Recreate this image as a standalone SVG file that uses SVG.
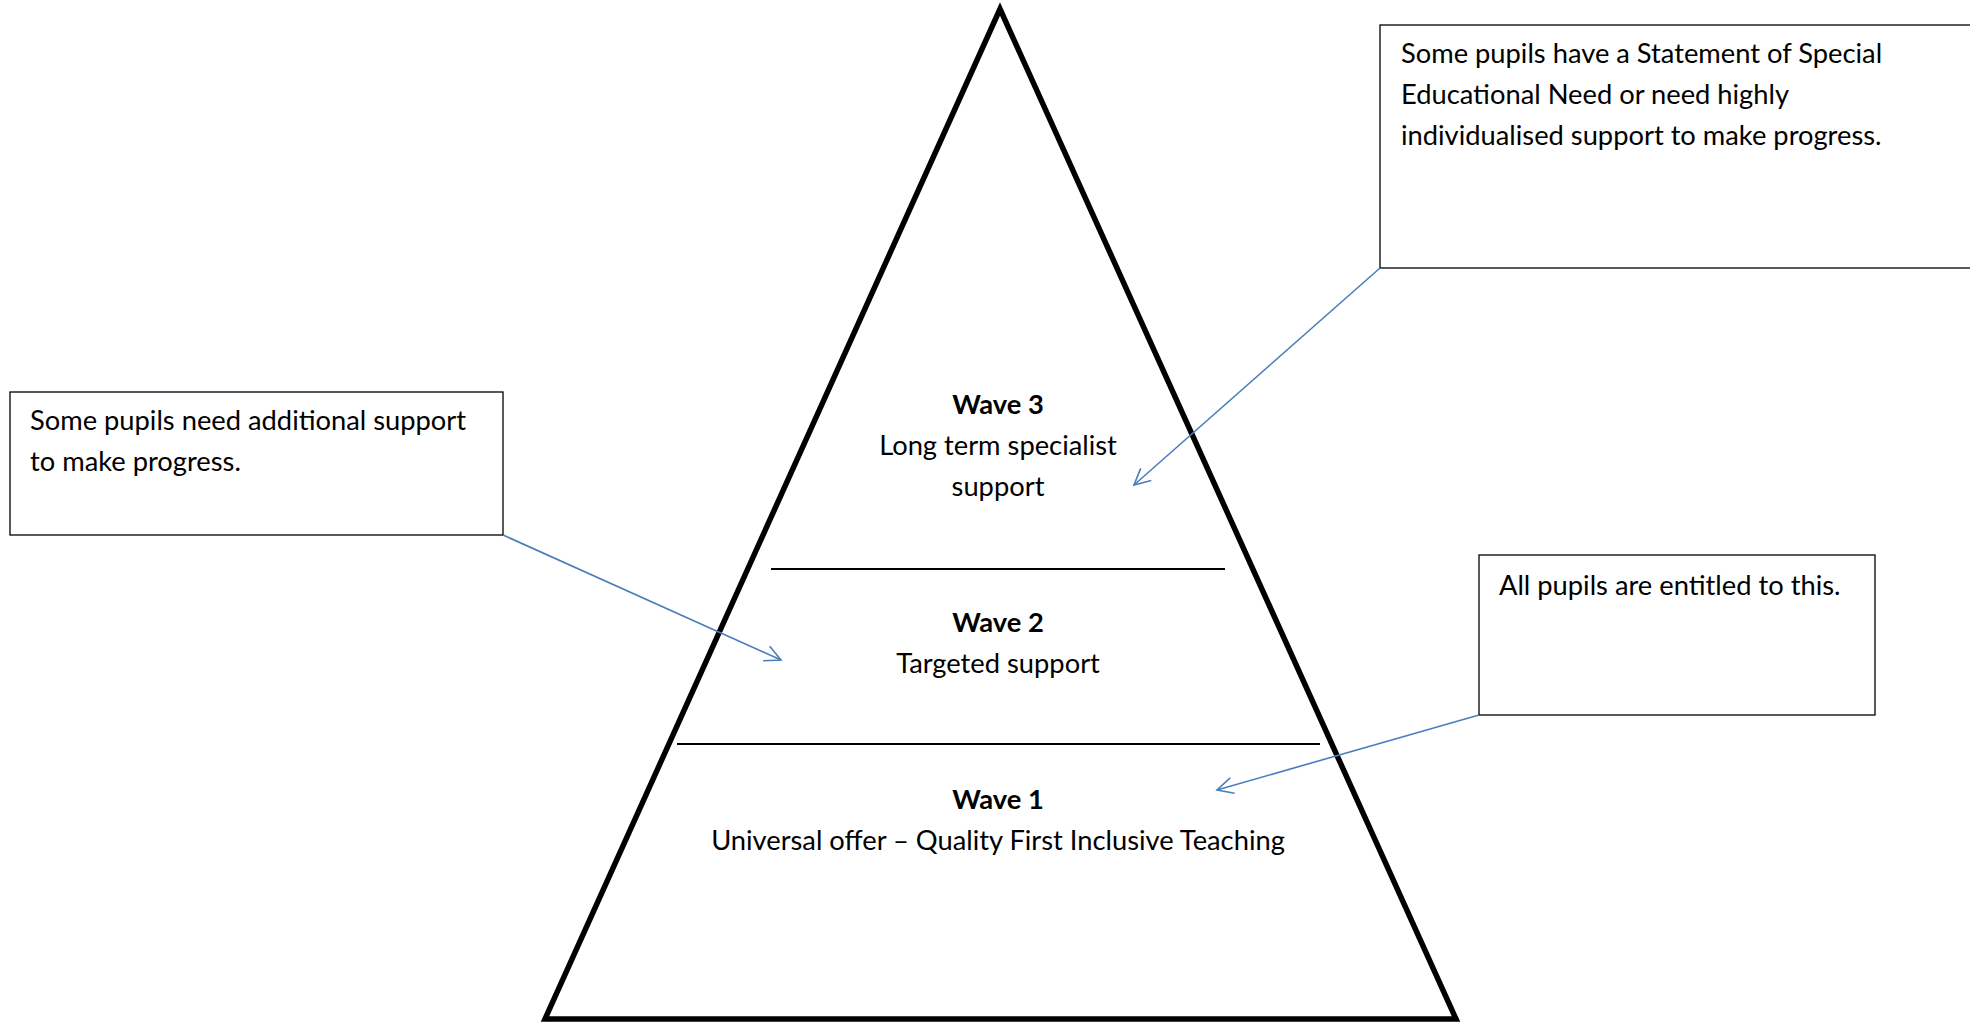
<svg xmlns="http://www.w3.org/2000/svg" width="1970" height="1022" viewBox="0 0 1970 1022">
<style>
.t{font-family:Lato,"Liberation Sans",sans-serif;font-size:27.3px;fill:#000}
.b{font-weight:bold}
.c{text-anchor:middle}
.box{fill:#fff;stroke:#000;stroke-width:1.3}
.con{stroke:#4A7EBB;stroke-width:1.6;fill:none}
.rule{stroke:#000;stroke-width:2}
</style>
<defs>
<marker id="open" viewBox="0 0 20 20" refX="18" refY="10" markerWidth="20" markerHeight="20" markerUnits="userSpaceOnUse" orient="auto">
<path d="M2,2 L18,10 L2,18" fill="none" stroke="#4A7EBB" stroke-width="1.6"/>
</marker>
</defs>
<rect width="1970" height="1022" fill="#fff"/>
<g id="pyramid">
<polygon points="1000,9 1456,1019 545,1019" fill="none" stroke="#000" stroke-width="5.5" stroke-linejoin="miter"/>
<line class="rule" x1="771" y1="569" x2="1225" y2="569"/>
<line class="rule" x1="677" y1="744" x2="1320" y2="744"/>
</g>
<g id="wave3">
<text class="t b c" x="998" y="414">Wave 3</text>
<text class="t c" x="998" y="455">Long term specialist</text>
<text class="t c" x="998" y="496">support</text>
</g>
<g id="wave2">
<text class="t b c" x="998" y="632">Wave 2</text>
<text class="t c" x="998" y="673">Targeted support</text>
</g>
<g id="wave1">
<text class="t b c" x="998" y="809">Wave 1</text>
<text class="t c" x="998" y="850">Universal offer – Quality First Inclusive Teaching</text>
</g>
<g id="note-statement">
<rect class="box" x="1380" y="25" width="600" height="243"/>
<text class="t" x="1401" y="63">Some pupils have a Statement of Special</text>
<text class="t" x="1401" y="104">Educational Need or need highly</text>
<text class="t" x="1401" y="145">individualised support to make progress.</text>
</g>
<g id="note-additional">
<rect class="box" x="10" y="392" width="493" height="143"/>
<text class="t" x="30" y="430">Some pupils need additional support</text>
<text class="t" x="30" y="471">to make progress.</text>
</g>
<g id="note-all">
<rect class="box" x="1479" y="555" width="396" height="160"/>
<text class="t" x="1499" y="595">All pupils are entitled to this.</text>
</g>
<g id="connectors">
<line class="con" x1="1380" y1="268" x2="1134" y2="485" marker-end="url(#open)"/>
<line class="con" x1="503" y1="535" x2="781" y2="660" marker-end="url(#open)"/>
<line class="con" x1="1479" y1="715" x2="1217" y2="790" marker-end="url(#open)"/>
</g>
</svg>
